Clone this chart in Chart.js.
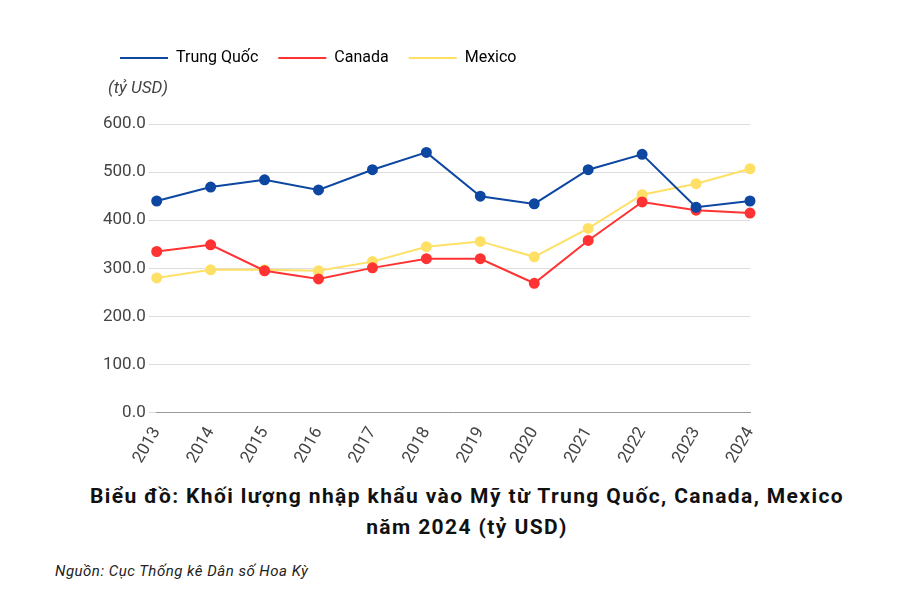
<!DOCTYPE html>
<html><head><meta charset="utf-8">
<script src="https://cdn.jsdelivr.net/npm/chart.js@4"></script>
<style>
body{margin:0;background:#fff;width:900px;height:600px;font-family:Roboto,sans-serif;}
#wrap{position:relative;width:900px;height:470px;}
#title{position:absolute;top:481px;left:0;width:934px;text-align:center;font-weight:bold;font-size:21px;line-height:31px;letter-spacing:1.4px;color:#111;}
#src{position:absolute;top:562px;left:55px;font-style:italic;font-size:15px;color:#222;letter-spacing:0.5px;}
</style></head><body>
<div id="wrap"><canvas id="c" width="900" height="470"></canvas></div>
<div id="title">Biểu đồ: Khối lượng nhập khẩu vào Mỹ từ Trung Quốc, Canada, Mexico<br>năm 2024 (tỷ USD)</div>
<div id="src">Nguồn: Cục Thống kê Dân số Hoa Kỳ</div>
<script>
const years=["2013","2014","2015","2016","2017","2018","2019","2020","2021","2022","2023","2024"];
const china=[440,469,484,463,505,541,450,434,505,537,427,440];
const canada=[335,349,295,278,301,320,320,269,358,438,421,415];
const mexico=[280,297,297,295,314,345,356,324,383,453,476,507];
const unitLabel="(tỷ USD)";
const ytitle={id:'yt',afterDraw(c){const x=c.ctx;x.save();x.font='italic 17px Roboto';x.fillStyle='#444';x.textBaseline='middle';x.fillText(unitLabel,108,89);x.restore();}};
const legPad={id:'legPad',beforeLayout(c){const l=c.legend;if(l&&!l._patched){const o=l.fit;l.fit=function(){o.call(this);this.height+=48;};l._patched=true;}}};
function ds(l,d,col){return{label:l,data:d,borderColor:col,backgroundColor:col,pointRadius:4.5,pointHoverRadius:4.5,borderWidth:2,tension:0};}
new Chart(document.getElementById('c'),{type:'line',
data:{labels:years,datasets:[ds('Trung Quốc',china,'#0d47a1'),ds('Canada',canada,'#ff3333'),ds('Mexico',mexico,'#ffe066')]},
options:{responsive:false,animation:false,devicePixelRatio:1,
layout:{padding:{left:100,right:150,top:30,bottom:0}},
plugins:{legend:{align:'start',labels:{boxWidth:48,boxHeight:2,padding:20,font:{family:'Roboto',size:16},color:'#222',
generateLabels(c){return c.data.datasets.map((d,i)=>({text:d.label,fillStyle:d.borderColor,strokeStyle:d.borderColor,lineWidth:0,datasetIndex:i}));}}},
tooltip:{enabled:false}},
scales:{x:{grid:{display:false},border:{color:'#999'},ticks:{color:'#444',font:{family:'Roboto',size:17},maxRotation:60,minRotation:60}},
y:{min:0,max:600,ticks:{stepSize:100,color:'#444',font:{family:'Roboto',size:17},callback:v=>v.toFixed(1)},grid:{color:'#ddd'},border:{display:false}}}},
plugins:[ytitle,legPad]});
</script>
</body></html>
